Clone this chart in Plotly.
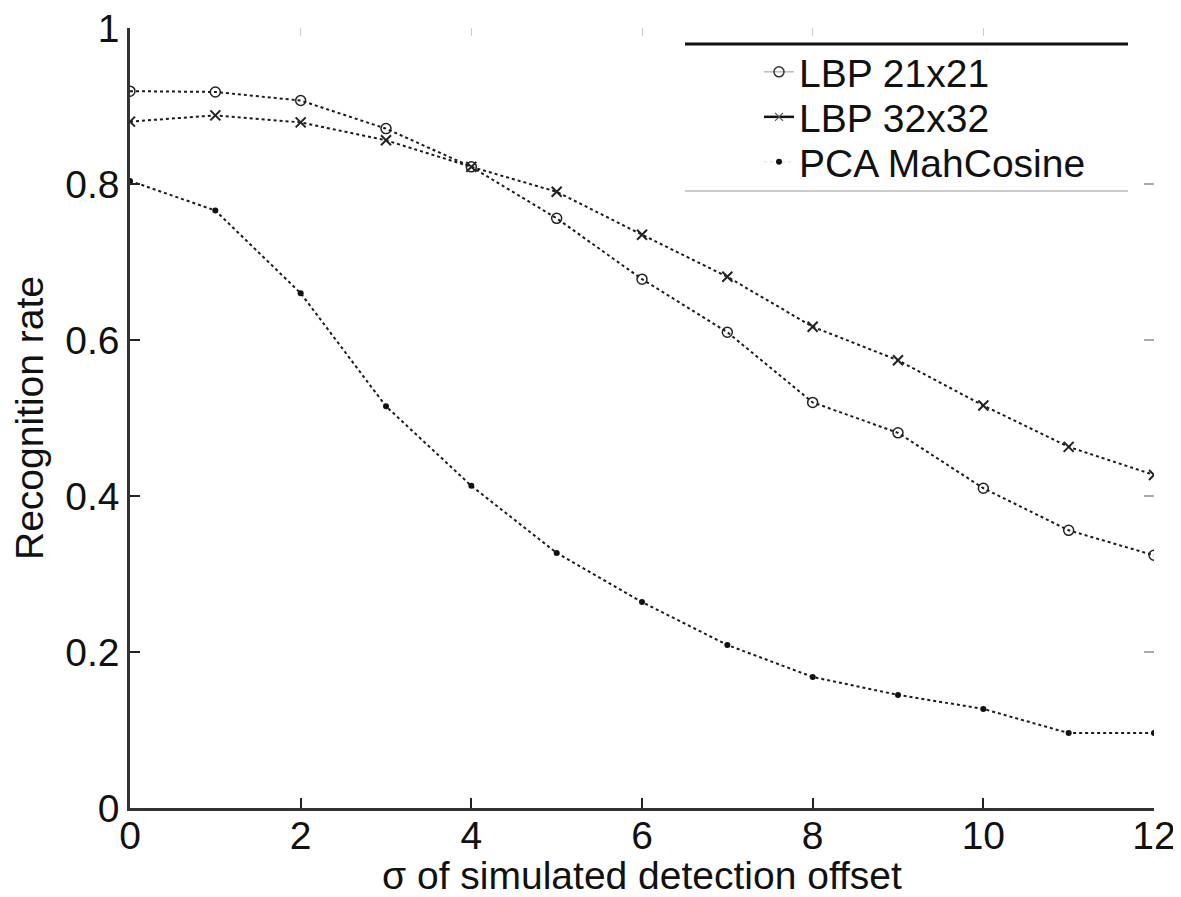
import plotly.graph_objects as go

sigma = [0, 1, 2, 3, 4, 5, 6, 7, 8, 9, 10, 11, 12]
lbp21 = [0.919, 0.918, 0.907, 0.871, 0.822, 0.756, 0.678, 0.610, 0.520, 0.481, 0.410, 0.356, 0.324]
lbp32 = [0.880, 0.888, 0.879, 0.856, 0.822, 0.790, 0.735, 0.681, 0.617, 0.574, 0.516, 0.463, 0.427]
pca = [0.804, 0.766, 0.660, 0.515, 0.413, 0.327, 0.264, 0.209, 0.168, 0.145, 0.127, 0.096, 0.096]

names = ["LBP 21x21", "LBP 32x32", "PCA MahCosine"]
x_ticks = [0, 2, 4, 6, 8, 10, 12]
y_ticks = [0, 0.2, 0.4, 0.6, 0.8, 1]
y_ticktext = ["0", "0.2", "0.4", "0.6", "0.8", "1"]

FONT = "Liberation Sans, Arial, Helvetica, sans-serif"
FS = 39

# page body has an 8px margin; figure drawn so that the plot area lands on
# screen x 130..1154, y 28..808
OFF = 8
FIG_W, FIG_H = 1181 - OFF, 897 - OFF
L, R, T, B = 130, 1154, 28, 808
W, H = R - L, B - T


def px(xs):
    return (xs - L) / W


def py(ys):
    return (B - ys) / H


fig = go.Figure()

data_line = dict(color="#1a1a1a", width=2, dash="dot")
fig.add_trace(go.Scatter(x=sigma, y=lbp21, mode="lines+markers", showlegend=False,
                         line=data_line,
                         marker=dict(symbol="circle-open", size=10, color="#222", line=dict(width=1.5))))
fig.add_trace(go.Scatter(x=sigma, y=lbp32, mode="lines+markers", showlegend=False,
                         line=data_line,
                         marker=dict(symbol="x-thin", size=10, color="#222", line=dict(width=2, color="#222"))))
fig.add_trace(go.Scatter(x=sigma, y=pca, mode="lines+markers", showlegend=False,
                         line=data_line,
                         marker=dict(symbol="circle", size=6, color="#111")))

# legend-only entries with the legend's line styles, each in its own legend box
legend_styles = [
    dict(line=dict(color="#aaa", width=1.2),
         marker=dict(symbol="circle-open", size=10, color="#333", line=dict(width=1.5))),
    dict(line=dict(color="#111", width=2.5),
         marker=dict(symbol="x-thin", size=8, color="#555", line=dict(width=1.2, color="#555"))),
    dict(line=dict(color="#ddd", width=1, dash="dot"),
         marker=dict(symbol="circle", size=6, color="#111")),
]
legend_ids = ["legend", "legend2", "legend3"]
legend_rows = [72, 117, 162]
for name, style, lid in zip(names, legend_styles, legend_ids):
    fig.add_trace(go.Scatter(x=[None], y=[None], mode="lines+markers", name=name,
                             legend=lid, **style))

# mirrored ticks (top/right) without a border line
fig.add_trace(go.Scatter(x=[None], y=[None], xaxis="x2", yaxis="y2", showlegend=False))

legend_common = dict(xanchor="left", yanchor="middle", bgcolor="rgba(255,255,255,0)",
                     borderwidth=0, font=dict(family=FONT, size=FS, color="#111"))

fig.update_layout(
    width=FIG_W, height=FIG_H,
    margin=dict(l=L - OFF, r=FIG_W - (R - OFF), t=T - OFF, b=FIG_H - (B - OFF)),
    paper_bgcolor="white", plot_bgcolor="white",
    font=dict(family=FONT, size=FS, color="#111"),
    xaxis=dict(range=[0, 12], tickvals=x_ticks, ticks="inside", ticklen=10, tickwidth=1.5,
               tickcolor="#222", showline=True, linecolor="#333", linewidth=2.5,
               showgrid=False, zeroline=False, automargin=False, ticklabelstandoff=-9,
               ticklabeloverflow="allow",
               title=dict(text="σ of simulated detection offset", standoff=10,
                          font=dict(family=FONT, size=FS)),
               tickfont=dict(family=FONT, size=FS)),
    yaxis=dict(range=[0, 1], tickvals=y_ticks, ticktext=y_ticktext, ticks="inside", ticklen=10,
               tickwidth=1.5, tickcolor="#222", showline=True, linecolor="#333", linewidth=2.5,
               showgrid=False, zeroline=False, automargin=False, ticklabeloverflow="allow",
               title=dict(text="Recognition rate", standoff=12, font=dict(family=FONT, size=FS)),
               tickfont=dict(family=FONT, size=FS)),
    xaxis2=dict(overlaying="x", side="top", range=[0, 12], tickvals=x_ticks, ticks="inside",
                ticklen=8, tickcolor="#ccc", showticklabels=False, showline=False,
                showgrid=False, zeroline=False, automargin=False),
    yaxis2=dict(overlaying="y", side="right", anchor="x2", range=[0, 1], tickvals=y_ticks,
                ticks="inside", ticklen=10, tickwidth=2, tickcolor="#aaa", showticklabels=False,
                showline=False, showgrid=False, zeroline=False, automargin=False),
    legend=dict(x=px(759), y=py(legend_rows[0]), **legend_common),
    legend2=dict(x=px(759), y=py(legend_rows[1]), **legend_common),
    legend3=dict(x=px(759), y=py(legend_rows[2]), **legend_common),
    shapes=[
        dict(type="line", xref="paper", yref="paper",
             x0=px(685), x1=px(1128), y0=py(44), y1=py(44),
             line=dict(color="#111", width=3)),
        dict(type="line", xref="paper", yref="paper",
             x0=px(685), x1=px(1128), y0=py(191), y1=py(191),
             line=dict(color="#ccc", width=2)),
    ],
)

fig.write_html("out.html")
